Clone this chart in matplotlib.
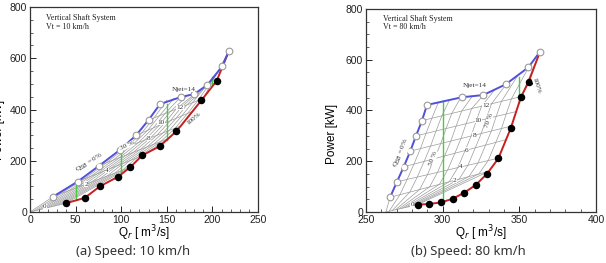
import matplotlib
matplotlib.use("Agg")
import matplotlib.pyplot as plt
from matplotlib.ticker import MultipleLocator

# ---------------- data ----------------
njet_levels = [0, 2, 4, 6, 8, 10, 12, 14]
qsb_levels = [0, 10, 20, 30, 40, 50, 60, 70, 80, 90, 100]

# panel (a): Vt = 10 km/h
a_left_q = [0, 25.4, 52.4, 76, 98.9, 116.5, 130, 142.6]        # Q_SB = 0 % end of each Njet line
a_left_p = [0, 60, 119, 181, 243, 300, 359, 421]
a_right_q = [39, 110, 123.5, 151, 166, 179, 190, 218.2]         # Q_SB = 100 % end of each Njet line
a_right_p = [34, 175, 220, 286, 337, 394, 443, 629]
a_top_q = [142.6, 150.2, 157.7, 165.3, 172.8, 180.4, 188, 195.5, 203.1, 210.6, 218.2]  # Njet = 14 nodes
a_top_p = [421, 437, 443, 449, 454, 460, 478, 498, 535, 568, 629]
a_open_q = [25.4, 52.4, 76, 98.9, 116.5, 130, 142.6, 165.6, 180, 194.5, 210.6, 218.2]
a_open_p = [60, 119, 181, 243, 300, 359, 421, 449, 460, 496, 568, 629]
a_dot_q = [39, 60, 76.6, 96.7, 110, 123, 142, 160.6, 188, 204.7]
a_dot_p = [34, 55, 100, 138, 175, 221, 256, 315, 436, 512]
a_green_q = [50, 100, 150, 200]
a_green_top = [114, 246, 421, 525]
a_green_bot = [46, 142, 282, 498]

# panel (b): Vt = 80 km/h
b_left_q = [263, 265.7, 270.2, 274.6, 278.9, 282.6, 286.5, 289.8]
b_left_p = [0, 58, 119, 178, 240, 300, 360, 422]
b_right_q = [283.7, 330, 336.3, 341.3, 345, 348, 351.3, 363.5]
b_right_p = [29, 160, 212, 285, 339, 396, 455, 632]
b_top_q = [289.8, 297.2, 304.5, 311.9, 319.3, 326.7, 334, 341.4, 348.8, 356.1, 363.5]
b_top_p = [422, 432, 442, 452, 456, 461, 482, 503, 536, 571, 632]
b_open_q = [265.7, 270.2, 274.6, 278.9, 282.6, 286.5, 289.8, 312.4, 326.5, 341.1, 355.9, 363.5]
b_open_p = [58, 119, 178, 240, 300, 360, 422, 452, 461, 503, 570, 632]
b_dot_q = [283.7, 291.1, 299, 306.5, 314, 321.5, 329, 336.3, 344.4, 351, 356]
b_dot_p = [29, 31.5, 38, 52, 76, 106, 151, 211, 330, 452, 512]
b_green_q = [300, 349.5]
b_green_top = [436, 531]
b_green_bot = [39, 428]

MESH = "#9c9c9c"
BLUE = "#5050dc"
RED = "#c82020"
GREEN = "#44cc44"
SERIF = "Liberation Serif"
SANS = "Liberation Sans"

W, H = 606, 263
fig = plt.figure(figsize=(W / 100, H / 100), dpi=100)
ax_a = fig.add_axes([30 / W, 51 / H, 228 / W, 205 / H])
ax_b = fig.add_axes([366 / W, 51 / H, 230 / W, 203 / H])


def mesh_nodes(left_q, left_p, right_q, right_p, top_q, top_p):
    nodes = []
    for i in range(len(njet_levels)):
        if i == len(njet_levels) - 1:
            nodes.append(list(zip(top_q, top_p)))
            continue
        row = []
        for s in qsb_levels:
            f = s / 100.0
            row.append((left_q[i] + f * (right_q[i] - left_q[i]),
                        left_p[i] + f * (right_p[i] - left_p[i])))
        nodes.append(row)
    return nodes


def draw_panel(ax, left_q, left_p, right_q, right_p, top_q, top_p,
               open_q, open_p, dot_q, dot_p, gq, gtop, gbot):
    nodes = mesh_nodes(left_q, left_p, right_q, right_p, top_q, top_p)
    for i in range(len(njet_levels) - 1):
        qs = [n[0] for n in nodes[i]]
        ps = [n[1] for n in nodes[i]]
        ax.plot(qs, ps, color=MESH, lw=0.5, zorder=1)
    for j in range(len(qsb_levels)):
        qs = [nodes[i][j][0] for i in range(len(njet_levels))]
        ps = [nodes[i][j][1] for i in range(len(njet_levels))]
        ax.plot(qs, ps, color=MESH, lw=0.5, zorder=1)
    for q, t, b in zip(gq, gtop, gbot):
        ax.plot([q, q], [b, t], color=GREEN, lw=1.0, zorder=2)
    ax.plot(list(dot_q) + [open_q[-1]], list(dot_p) + [open_p[-1]],
            color=RED, lw=1.4, zorder=3)
    ax.plot(dot_q, dot_p, 'o', color='black', ms=4.4, zorder=5)
    ax.plot(open_q, open_p, color=BLUE, lw=1.4, zorder=4)
    ax.plot(open_q, open_p, 'o', mfc='white', mec='#9a9a9a', mew=0.8, ms=4.8, zorder=5)


draw_panel(ax_a, a_left_q, a_left_p, a_right_q, a_right_p, a_top_q, a_top_p,
           a_open_q, a_open_p, a_dot_q, a_dot_p, a_green_q, a_green_top, a_green_bot)
draw_panel(ax_b, b_left_q, b_left_p, b_right_q, b_right_p, b_top_q, b_top_p,
           b_open_q, b_open_p, b_dot_q, b_dot_p, b_green_q, b_green_top, b_green_bot)

for ax, (x0, x1) in ((ax_a, (0, 250)), (ax_b, (250, 400))):
    ax.set_xlim(x0, x1)
    ax.set_ylim(0, 800)
    ax.xaxis.set_major_locator(MultipleLocator(50))
    ax.xaxis.set_minor_locator(MultipleLocator(10))
    ax.yaxis.set_major_locator(MultipleLocator(200))
    ax.yaxis.set_minor_locator(MultipleLocator(50))
    ax.tick_params(which='both', direction='in', top=False, right=False,
                   labelsize=7.5, pad=2, colors='#222222')
    ax.tick_params(which='major', length=4, width=0.7)
    ax.tick_params(which='minor', length=2, width=0.5)
    for lab in ax.get_xticklabels() + ax.get_yticklabels():
        lab.set_fontfamily(SANS)
    for sp in ax.spines.values():
        sp.set_linewidth(0.9)
        sp.set_color('#333333')
    ax.set_xlabel(r"Q$_r$ [ m$^3$/s]", fontsize=8.5, family=SANS, labelpad=0)
    ax.set_ylabel("Power [kW]", fontsize=8.5, family=SANS)

ax_a.xaxis.set_label_coords(0.5, -0.055)
ax_b.xaxis.set_label_coords(0.5, -0.055)
ax_a.yaxis.set_label_coords(-0.108, 0.40)
ax_b.yaxis.set_label_coords(-0.122, 0.385)

# ---------------- annotations ----------------
tk = dict(family=SERIF, fontsize=5.8, color='#222222', zorder=6)
ax_a.text(17.5, 756, "Vertical Shaft System", ha='left', va='center', **tk)
ax_a.text(17.5, 723, "Vt = 10 km/h", ha='left', va='center', **tk)
ax_b.text(261, 762, "Vertical Shaft System", ha='left', va='center', **tk)
ax_b.text(261, 729, "Vt = 80 km/h", ha='left', va='center', **tk)

lb = dict(family=SERIF, fontsize=5.2, color='#333333', ha='center', va='center', zorder=6)
box = dict(facecolor='white', edgecolor='none', pad=0.2)

a_lab_q = [16, 61.4, 84, 130.5, 143.6, 164.5]
a_lab_p = [22, 109, 162, 288, 350, 408]
a_lab_t = ["0", "2", "4", "8", "10", "12"]
for q, p, t in zip(a_lab_q, a_lab_p, a_lab_t):
    ax_a.text(q, p, t, bbox=box, **lb)
ax_a.text(168, 479, "Njet=14", bbox=box, **lb)
ax_a.text(66, 191, r"Q$_{SB}$ = 0%", rotation=32, bbox=box, **lb)
ax_a.text(106, 258, "30 %", rotation=25, bbox=box, **lb)
ax_a.text(180, 366, "100%", rotation=40, bbox=box, **lb)

b_lab_q = [280.3, 308, 312, 315.7, 320.6, 323.3, 328]
b_lab_p = [28, 124, 178, 244, 303, 360, 421]
b_lab_t = ["0", "2", "4", "6", "8", "10", "12"]
for q, p, t in zip(b_lab_q, b_lab_p, b_lab_t):
    ax_b.text(q, p, t, bbox=box, **lb)
ax_b.text(321, 497, "Njet=14", bbox=box, **lb)
ax_b.text(273.5, 233, r"Q$_{SB}$ = 0%", rotation=68, bbox=box, **lb)
ax_b.text(294, 211, "50 %", rotation=70, bbox=box, **lb)
ax_b.text(330, 360, "70 %", rotation=70, bbox=box, **lb)
ax_b.text(361.3, 498, "100%", rotation=-72, bbox=box, **lb)

cap = dict(family="Noto Sans", fontsize=9.4, color='#333333', ha='center', va='center')
fig.text(133 / W, 1 - 251.5 / H, "(a) Speed: 10 km/h", **cap)
fig.text(468 / W, 1 - 251.5 / H, "(b) Speed: 80 km/h", **cap)

fig.savefig("out.png", dpi=100)
